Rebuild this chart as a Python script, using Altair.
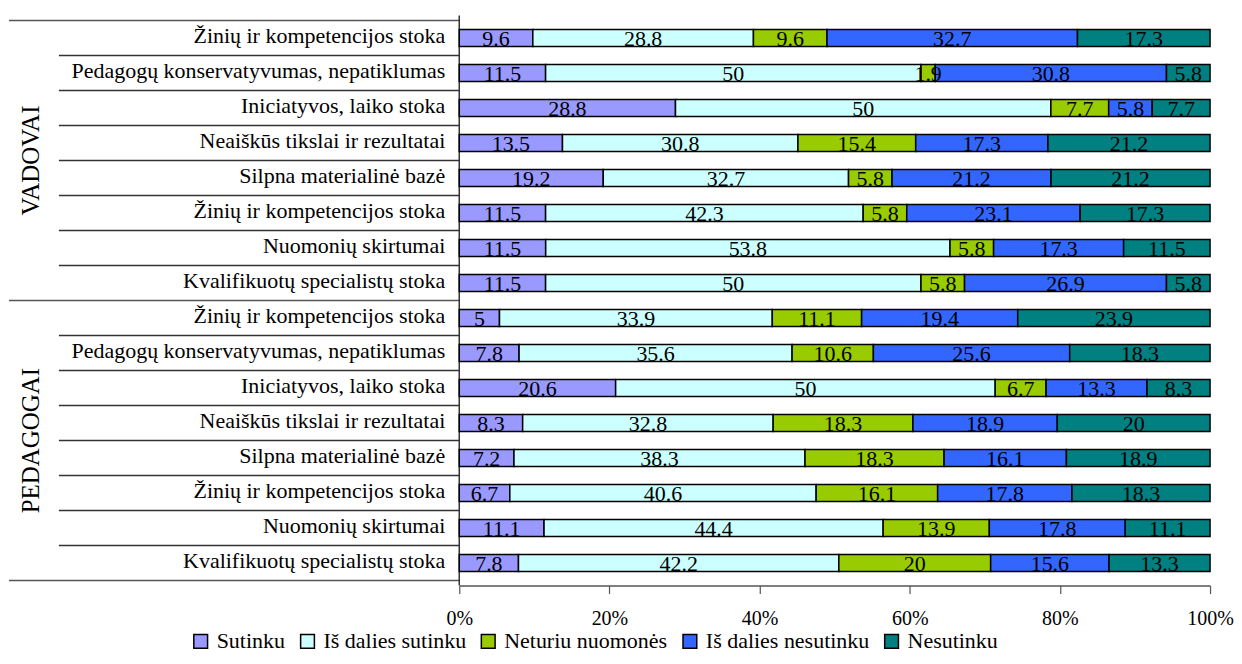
import altair as alt
import pandas as pd

groups = ["VADOVAI", "PEDAGOGAI"]
items = [
    "Žinių ir kompetencijos stoka",
    "Pedagogų konservatyvumas, nepatiklumas",
    "Iniciatyvos, laiko stoka",
    "Neaiškūs tikslai ir rezultatai",
    "Silpna materialinė bazė",
    "Žinių ir kompetencijos stoka",
    "Nuomonių skirtumai",
    "Kvalifikuotų specialistų stoka",
]
series = ["Sutinku", "Iš dalies sutinku", "Neturiu nuomonės", "Iš dalies nesutinku", "Nesutinku"]
colors = ["#9999FF", "#CCFFFF", "#99CC00", "#3366FF", "#008080"]

# values per row: VADOVAI rows 0-7, PEDAGOGAI rows 8-15
sutinku = [9.6, 11.5, 28.8, 13.5, 19.2, 11.5, 11.5, 11.5,
           5, 7.8, 20.6, 8.3, 7.2, 6.7, 11.1, 7.8]
is_dalies_sutinku = [28.8, 50, 50, 30.8, 32.7, 42.3, 53.8, 50,
                     33.9, 35.6, 50, 32.8, 38.3, 40.6, 44.4, 42.2]
neturiu = [9.6, 1.9, 7.7, 15.4, 5.8, 5.8, 5.8, 5.8,
           11.1, 10.6, 6.7, 18.3, 18.3, 16.1, 13.9, 20]
is_dalies_nesutinku = [32.7, 30.8, 5.8, 17.3, 21.2, 23.1, 17.3, 26.9,
                       19.4, 25.6, 13.3, 18.9, 16.1, 17.8, 17.8, 15.6]
nesutinku = [17.3, 5.8, 7.7, 21.2, 21.2, 17.3, 11.5, 5.8,
             23.9, 18.3, 8.3, 20, 18.9, 18.3, 11.1, 13.3]

vals = [sutinku, is_dalies_sutinku, neturiu, is_dalies_nesutinku, nesutinku]
FONT = "Liberation Serif, Times New Roman, serif"
FS = 22
W, H = 752, 571
NROW = 16

rows = []
for gi, g in enumerate(groups):
    for ii, it in enumerate(items):
        r = gi * 8 + ii
        for si, s in enumerate(series):
            rows.append({"row": r, "yc": r + 0.5, "item": it, "series": s,
                         "ord": si, "value": vals[si][r]})
df = pd.DataFrame(rows)

labels_df = pd.DataFrame({"yc": [r + 0.5 for r in range(NROW)],
                          "item": items + items})
sep_df = pd.DataFrame({"b": [b for b in range(NROW + 1) if b % 8 != 0]})
gsep_df = pd.DataFrame({"b": [0, 8, 16]})
grp_df = pd.DataFrame({"g": groups, "yc": [4.0, 12.0]})
one_df = pd.DataFrame({"k": [0]})

yscale = alt.Scale(domain=[0, NROW], reverse=True, nice=False, zero=False)
xscale = alt.Scale(domain=[0, 1], nice=False)

bars = alt.Chart(df).mark_bar(stroke="black", strokeWidth=1.5, size=17,
                              orient="horizontal").encode(
    x=alt.X("value:Q", stack="normalize", scale=xscale,
            axis=alt.Axis(values=[0, 0.2, 0.4, 0.6, 0.8, 1], format=".0%",
                          title=None, grid=False, tickSize=8, tickColor="#555",
                          tickWidth=1.2, domainWidth=1.5,
                          domainColor="#555", labelFont=FONT, labelFontSize=20,
                          labelColor="black", labelPadding=15, labelFlush=False)),
    y=alt.Y("yc:Q", scale=yscale, axis=None),
    order=alt.Order("ord:Q", sort="ascending"),
    color=alt.Color("series:N", scale=alt.Scale(domain=series, range=colors),
                    legend=alt.Legend(title=None, orient="none", direction="horizontal",
                                      legendX=-270, legendY=616, columns=5,
                                      symbolType="square", symbolSize=190,
                                      symbolStrokeColor="black", symbolStrokeWidth=1.5,
                                      labelFont=FONT, labelFontSize=FS, labelColor="black",
                                      labelLimit=400, columnPadding=11, labelOffset=5)),
)

texts = alt.Chart(df).transform_joinaggregate(
    total="sum(value)", groupby=["row"]
).transform_window(
    cum="sum(value)", groupby=["row"], sort=[alt.SortField("ord", "ascending")],
    frame=[None, 0]
).transform_calculate(mid="(datum.cum - datum.value / 2) / datum.total").mark_text(
    font=FONT, fontSize=FS, color="black", baseline="middle", dy=1
).encode(
    x=alt.X("mid:Q", scale=xscale),
    y=alt.Y("yc:Q", scale=yscale, axis=None),
    text=alt.Text("value:Q", format="~g"),
)

row_labels = alt.Chart(labels_df).mark_text(
    font=FONT, fontSize=FS, color="black", align="right", baseline="middle", dy=-2
).encode(x=alt.value(-14), y=alt.Y("yc:Q", scale=yscale, axis=None), text="item:N")

seps = alt.Chart(sep_df).mark_rule(color="#333", strokeWidth=1.5).encode(
    x=alt.value(-401), x2=alt.value(0), y=alt.Y("b:Q", scale=yscale, axis=None))
gseps = alt.Chart(gsep_df).mark_rule(color="#555", strokeWidth=1.5).encode(
    x=alt.value(-451), x2=alt.value(0), y=alt.Y("b:Q", scale=yscale, axis=None))
vline = alt.Chart(one_df).mark_rule(color="#333", strokeWidth=1.5).encode(
    x=alt.value(0), y=alt.value(0), y2=alt.value(H))

grp_labels = alt.Chart(grp_df).mark_text(
    font=FONT, fontSize=25, color="black", angle=270, align="center", baseline="middle"
).encode(x=alt.value(-429), y=alt.Y("yc:Q", scale=yscale, axis=None), text="g:N")

chart = alt.layer(seps, gseps, vline, bars, texts, row_labels, grp_labels).properties(
    width=W, height=H, padding={"left": 0, "top": 6, "right": 0, "bottom": 0}
).configure_view(stroke=None)

chart.save("out.html", embed_options={"renderer": "svg", "actions": False})
